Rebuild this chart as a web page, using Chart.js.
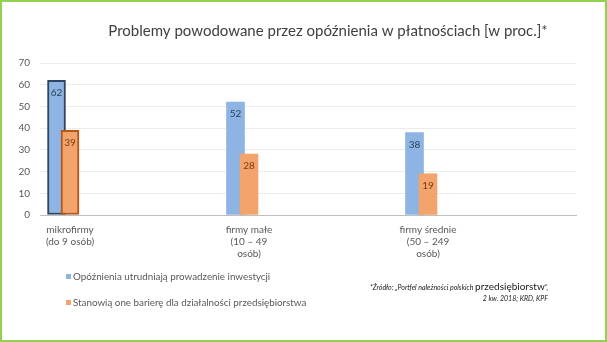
<!DOCTYPE html>
<html><head><meta charset="utf-8">
<script src="https://cdn.jsdelivr.net/npm/chart.js@4"></script>
<style>html,body{margin:0;padding:0;background:#fff}#wrap{width:607px;height:342px;position:relative}</style>
</head><body><div id="wrap"><canvas id="c" width="607" height="342"></canvas></div>
<script>
// ---- data ----
const categories = [
  ['mikrofirmy', '(do 9 osób)'],
  ['firmy małe', '(10 – 49', 'osób)'],
  ['firmy średnie', '(50 – 249', 'osób)']
];
const seriesNames = [
  'Opóźnienia utrudniają prowadzenie inwestycji',
  'Stanowią one barierę dla działalności przedsiębiorstwa'
];
const investmentValues = [62, 52, 38];
const barrierValues = [39, 28, 19];
const yTickValues = [0, 10, 20, 30, 40, 50, 60, 70];
const titleText = 'Problemy powodowane przez opóźnienia w płatnościach [w proc.]*';
const sourcePre = '*Źródło: „Portfel należności polskich ';
const sourceMid = 'przedsiębiorstw';
const sourcePost = '”,';
const sourceLine2 = '2 kw. 2018; KRD, KPF';

// ---- styles ----
const BLUE = '#8db4e2';
const ORANGE = '#f2a46c';
const FONT = 'Lato, "Open Sans", sans-serif';

const pts = (arr) => arr.map((v, i) => ({ x: i, y: v }));
const catTicks = (axis) => { axis.ticks = categories.map((_, i) => ({ value: i })); };

const decorPlugin = {
  id: 'decor',
  beforeDraw(chart) {
    const ctx = chart.ctx;
    ctx.save();
    ctx.fillStyle = '#ffffff';
    ctx.fillRect(0, 0, chart.width, chart.height);
    ctx.restore();
  },
  afterDraw(chart) {
    const ctx = chart.ctx;
    ctx.save();
    // border
    ctx.strokeStyle = '#92d050';
    ctx.lineWidth = 2;
    ctx.strokeRect(1, 1, chart.width - 2, chart.height - 2);
    // title
    ctx.fillStyle = '#404040';
    ctx.font = '15px ' + FONT;
    ctx.textAlign = 'center';
    ctx.textBaseline = 'middle';
    ctx.fillText(titleText, 328, 31);
    // legend
    const colors = [BLUE, ORANGE];
    const ys = [277, 303];
    ctx.font = '9.8px ' + FONT;
    ctx.textAlign = 'left';
    seriesNames.forEach((name, i) => {
      ctx.fillStyle = colors[i];
      ctx.fillRect(66, ys[i] - 3, 5, 5);
      ctx.fillStyle = '#595959';
      ctx.fillText(name, 73, ys[i]);
    });
    // source note
    ctx.fillStyle = '#1a1a1a';
    ctx.textAlign = 'left';
    const fSmall = 'italic 7px ' + FONT;
    const fBig = '10px ' + FONT;
    ctx.font = fSmall; const w1 = ctx.measureText(sourcePre).width; const w3 = ctx.measureText(sourcePost).width;
    ctx.font = fBig; const w2 = ctx.measureText(sourceMid).width;
    let x = 548 - (w1 + w2 + w3);
    ctx.font = fSmall; ctx.fillText(sourcePre, x, 288); x += w1;
    ctx.font = fBig; ctx.fillText(sourceMid, x, 287); x += w2;
    ctx.font = fSmall; ctx.fillText(sourcePost, x, 288);
    ctx.textAlign = 'right';
    ctx.fillText(sourceLine2, 548, 299);
    // value labels
    const labelColors = ['#2a3f5a', '#7a3c10'];
    ctx.font = '10px ' + FONT;
    ctx.textAlign = 'center';
    chart.data.datasets.forEach((ds, di) => {
      const meta = chart.getDatasetMeta(di);
      meta.data.forEach((el, i) => {
        ctx.fillStyle = labelColors[ds.labelIdx];
        ctx.fillText(String(ds.data[i].y), el.x, el.y + 12);
      });
    });
    ctx.restore();
  }
};

new Chart(document.getElementById('c'), {
  type: 'bar',
  data: {
    datasets: [
      {
        label: seriesNames[0], labelIdx: 0,
        data: pts(investmentValues),
        xAxisID: 'x2', order: 1, grouped: false,
        backgroundColor: BLUE,
        borderColor: ['#2e4563', 'rgba(0,0,0,0)', 'rgba(0,0,0,0)'],
        borderWidth: [2, 0, 0], borderSkipped: false,
        barThickness: 18
      },
      {
        label: seriesNames[1], labelIdx: 1,
        data: pts(barrierValues),
        xAxisID: 'x', order: 0, grouped: false,
        backgroundColor: ORANGE,
        borderColor: ['#b8561a', 'rgba(0,0,0,0)', 'rgba(0,0,0,0)'],
        borderWidth: [2, 0, 0], borderSkipped: false,
        barThickness: 18
      }
    ]
  },
  options: {
    responsive: false,
    animation: false,
    devicePixelRatio: 1,
    layout: { padding: { top: 63, right: 31, left: 0, bottom: 0 } },
    plugins: { legend: { display: false }, title: { display: false }, tooltip: { enabled: false } },
    scales: {
      x: {
        type: 'linear', position: 'bottom', offset: false,
        min: -0.1676, max: 2.8268,
        grid: { display: true, offset: false, color: 'rgba(0,0,0,0)', drawTicks: false },
        border: { display: true, color: '#bfbfbf', width: 1 },
        afterBuildTicks: catTicks,
        afterFit: (s) => { s.height = 127; },
        ticks: {
          autoSkip: false, maxRotation: 0, padding: 9,
          color: '#595959', font: { family: FONT, size: 10 },
          callback: (v) => categories[v]
        }
      },
      x2: {
        type: 'linear', position: 'bottom', display: false, offset: false,
        grid: { offset: false },
        min: -0.0922, max: 2.9022,
        afterBuildTicks: catTicks
      },
      y: {
        min: 0, max: 70,
        afterBuildTicks: (axis) => { axis.ticks = yTickValues.map(v => ({ value: v })); },
        afterFit: (s) => { s.width = 40; },
        grid: { color: (c) => c.tick && c.tick.value === 0 ? '#bfbfbf' : '#ececec', drawTicks: false },
        border: { display: false },
        ticks: { padding: 10, color: '#595959', font: { family: FONT, size: 10 } }
      }
    }
  },
  plugins: [decorPlugin]
});
</script>
</body></html>
